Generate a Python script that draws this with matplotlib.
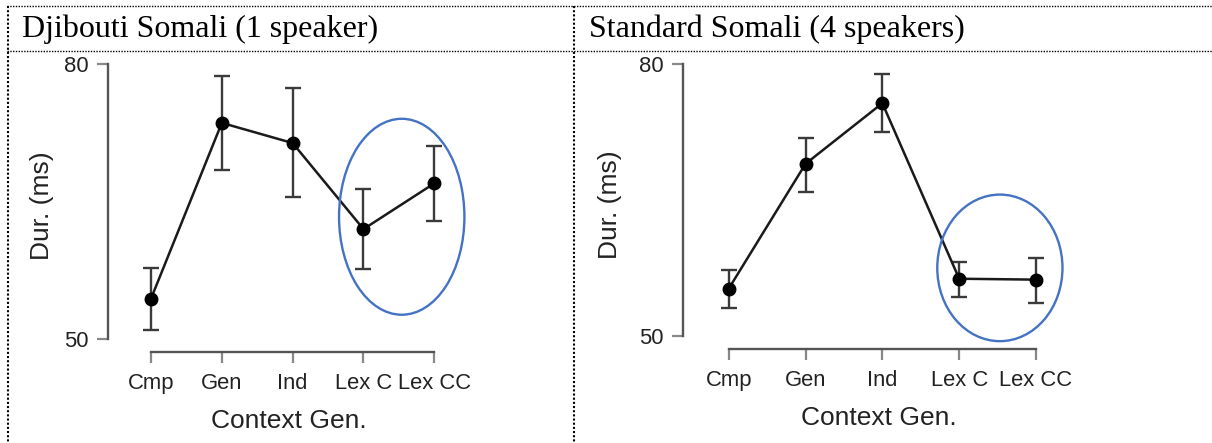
import matplotlib
matplotlib.use('Agg')
import matplotlib.pyplot as plt
from matplotlib.lines import Line2D
from matplotlib.patches import Ellipse

W, H = 1212, 443

# data
contexts = ['Cmp', 'Gen', 'Ind', 'Lex C', 'Lex CC']

dji_title = 'Djibouti Somali (1 speaker)'
dji_mean = [54.4, 73.6, 71.4, 62.0, 67.0]
dji_low = [51.0, 68.5, 65.5, 57.6, 62.9]
dji_high = [57.7, 78.7, 77.4, 66.4, 71.1]

std_title = 'Standard Somali (4 speakers)'
std_mean = [55.2, 69.0, 75.7, 56.3, 56.2]
std_low = [53.1, 65.9, 72.5, 54.3, 53.6]
std_high = [57.3, 71.9, 78.9, 58.1, 58.6]

y_ticks = [50, 80]

plt.rcParams['font.family'] = ['Liberation Sans', 'DejaVu Sans']

fig = plt.figure(figsize=(W / 100, H / 100), dpi=100)


def fx(px):
    return px / W


def fy(py):
    return 1 - py / H


def panel(x0, x1, y_top, y_bot, xlim, ylim, mean, low, high, ell, ypad):
    ax = fig.add_axes([fx(x0), fy(y_bot), fx(x1 - x0), (y_bot - y_top) / H])
    ax.set_xlim(*xlim)
    ax.set_ylim(*ylim)
    xs = list(range(len(contexts)))
    yerr = [[m - l for m, l in zip(mean, low)], [h - m for m, h in zip(mean, high)]]
    ax.errorbar(xs, mean, yerr=yerr, fmt='none', ecolor='#3a3a3a', elinewidth=1.7,
                capsize=5.5, capthick=1.7, zorder=2)
    ax.plot(xs, mean, color='#1a1a1a', lw=1.8, marker='o', ms=9,
            mfc='black', mec='black', zorder=3)
    ax.add_patch(Ellipse(ell[:2], ell[2], ell[3], fill=False, ec='#4472C4', lw=1.7,
                         zorder=4, clip_on=False))
    for s in ['top', 'right']:
        ax.spines[s].set_visible(False)
    ax.spines['left'].set_bounds(50, 80)
    ax.spines['bottom'].set_bounds(0, 4)
    for s in ['left', 'bottom']:
        ax.spines[s].set_color('#555555')
        ax.spines[s].set_linewidth(1.7)
    ax.set_yticks(y_ticks)
    ax.set_xticks(xs)
    ax.set_xticklabels(contexts)
    ax.tick_params(colors='#888888', labelcolor='#222222', labelsize=15.8,
                   length=8, width=1.6)
    ax.tick_params(axis='y', pad=6)
    ax.tick_params(axis='x', pad=7)
    ax.set_ylabel('Dur. (ms)', fontsize=19, color='#222222', labelpad=ypad)
    ax.set_xlabel('Context Gen.', fontsize=19, color='#222222', labelpad=11)
    ax.patch.set_alpha(0)
    return ax


panel(108, 470, 60, 352, (-0.607, 4.504), (48.58, 80.47),
      dji_mean, dji_low, dji_high, (3.54, 63.35, 1.77, 21.4), 7.5)
panel(682.7, 1075, 60, 349.3, (-0.599, 4.508), (48.5, 80.475),
      std_mean, std_low, std_high, (3.53, 57.5, 1.63, 16.2), 12)

# table borders (dotted)
ls = (0, (1, 1))
fig.add_artist(Line2D([fx(7), fx(W)], [fy(6), fy(6)], color='black', lw=1, ls=ls))
fig.add_artist(Line2D([fx(7), fx(W)], [fy(51), fy(51)], color='black', lw=1, ls=ls))
fig.add_artist(Line2D([fx(7.5), fx(7.5)], [fy(6), fy(H)], color='black', lw=1.5, ls=ls))
fig.add_artist(Line2D([fx(573.5), fx(573.5)], [fy(6), fy(H)], color='black', lw=1.5, ls=ls))

fig.text(fx(22), fy(37), dji_title, family='Liberation Serif', fontsize=23, va='baseline')
fig.text(fx(589), fy(37), std_title, family='Liberation Serif', fontsize=23, va='baseline')

fig.savefig('out.png', dpi=100)
